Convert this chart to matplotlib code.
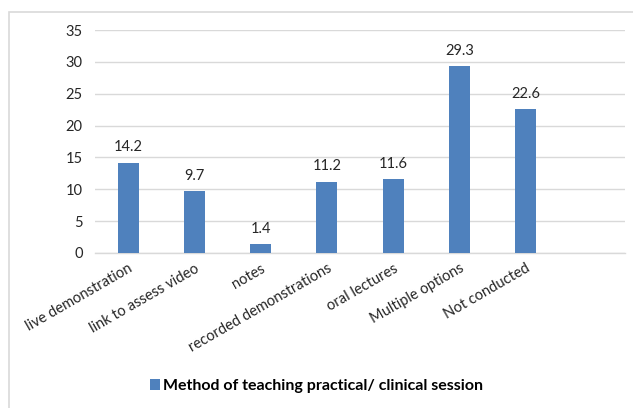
import matplotlib
matplotlib.use("Agg")
import matplotlib.pyplot as plt
from matplotlib.patches import Rectangle

categories = ["live demonstration", "link to assess video", "notes",
              "recorded demonstrations", "oral lectures", "Multiple options",
              "Not conducted"]
values = [14.2, 9.7, 1.4, 11.2, 11.6, 29.3, 22.6]
value_labels = ["14.2", "9.7", "1.4", "11.2", "11.6", "29.3", "22.6"]
yticks = [0, 5, 10, 15, 20, 25, 30, 35]
series_name = "Method of teaching practical/ clinical session"

plt.rcParams['font.family'] = ['Lato', 'DejaVu Sans']

fig = plt.figure(figsize=(6.33, 4.08), dpi=100)
ax = fig.add_axes([95/633, 1-253/408, 530/633, 223/408])

x = list(range(len(categories)))
bars = ax.bar(x, values, width=0.32, color="#4F81BD", zorder=3,
              label=series_name)
for xi, v, lab in zip(x, values, value_labels):
    ax.annotate(lab, (xi, v), xytext=(0, 6), textcoords="offset points",
                ha="center", va="bottom", fontsize=10.5, color="#262626")

ax.set_xlim(-0.5, 7.5)
ax.set_ylim(0, 35)
ax.set_yticks(yticks)
ax.set_yticklabels([str(t) for t in yticks], fontsize=10.5, color="#262626")
ax.set_xticks(x)
ax.set_xticklabels(categories, rotation=30, ha="right", rotation_mode="anchor",
                   fontsize=10.5, color="#262626")
ax.tick_params(axis="both", length=0)
ax.tick_params(axis="y", pad=9)
ax.tick_params(axis="x", pad=6)
ax.grid(axis="y", color="#D9D9D9", linewidth=1, zorder=0)
for s in ["top", "right", "left"]:
    ax.spines[s].set_visible(False)
ax.spines["bottom"].set_color("#D9D9D9")
ax.spines["bottom"].set_linewidth(1)

fig.legend(handles=[bars], labels=[series_name], loc="center",
           bbox_to_anchor=(0.5, 1-386/408), frameon=False, handlelength=0.65,
           handleheight=0.65, handletextpad=0.2,
           prop={'weight': 'bold', 'size': 11.5})

fig.patches.append(Rectangle((9/633, -0.1), 1.2, 1-12/408+0.1,
                             transform=fig.transFigure, fill=False,
                             edgecolor="#D9D9D9", linewidth=1.2))

fig.savefig("out.png", dpi=100)
